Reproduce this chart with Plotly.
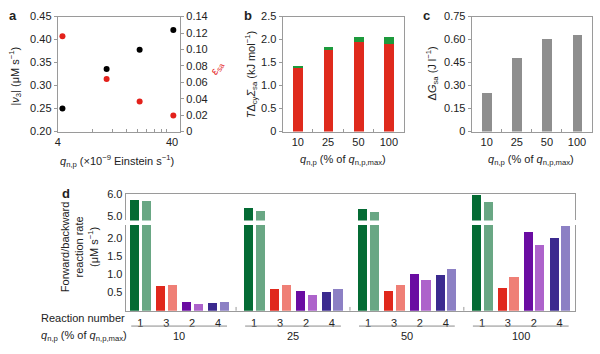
import math
import plotly.graph_objects as go

W, H = 600, 354
FONT = "Liberation Sans, Arial, sans-serif"
AX = "#9a9a9a"
TXT = "#222222"

# ---------------- data ----------------
# panel a
q_abs = [4.4, 10.7, 20.8, 41.0]
v3 = [0.250, 0.336, 0.378, 0.421]
eps_sa = [0.116, 0.064, 0.0365, 0.0196]
# panel b
q_pct = ["10", "25", "50", "100"]
b_red = [1.395, 1.79, 1.965, 1.917]
b_green = [0.036, 0.063, 0.100, 0.148]
# panel c
dG_sa = [0.252, 0.481, 0.609, 0.630]
# panel d
reactions = ["1", "3", "2", "4"]
groups = ["10", "25", "50", "100"]
fwd = [
    [5.745, 0.685, 0.254, 0.209],
    [5.37, 0.598, 0.553, 0.510],
    [5.31, 0.553, 1.013, 0.976],
    [5.955, 0.632, 2.15, 2.00],
]
bwd = [
    [5.69, 0.720, 0.175, 0.254],
    [5.24, 0.720, 0.430, 0.590],
    [5.18, 0.720, 0.844, 1.145],
    [5.655, 0.934, 1.79, 2.31],
]
fwd_colors = ["#046b34", "#e0281c", "#6a0ca2", "#3b2a8f"]
bwd_colors = ["#69a784", "#ef7f76", "#ad63cb", "#8c80c4"]


def px(x):
    return x / W


def py(y):
    return 1 - y / H


fig = go.Figure()

# ---------------- panel a ----------------
fig.add_trace(go.Scatter(x=q_abs, y=v3, mode="markers", xaxis="x", yaxis="y",
                         marker=dict(color="black", size=6), showlegend=False))
fig.add_trace(go.Scatter(x=q_abs, y=eps_sa, mode="markers", xaxis="x", yaxis="y2",
                         marker=dict(color="#e3211b", size=6), showlegend=False))

# ---------------- panel b ----------------
fig.add_trace(go.Bar(x=q_pct, y=b_red, xaxis="x2", yaxis="y3", width=0.32,
                     marker=dict(color="#df2a1d", line=dict(width=0)), showlegend=False))
fig.add_trace(go.Bar(x=q_pct, y=b_green, base=b_red, xaxis="x2", yaxis="y3", width=0.32,
                     marker=dict(color="#1d9a3c", line=dict(width=0)), showlegend=False))

# ---------------- panel c ----------------
fig.add_trace(go.Bar(x=q_pct, y=dG_sa, xaxis="x3", yaxis="y4", width=0.32,
                     marker=dict(color="#8e8e8e", line=dict(width=0)), showlegend=False))

# ---------------- panel d ----------------
GSP = 4.4   # group spacing in reaction slots
centers, xf, xb, yf, yb, cf, cb, labels = [], [], [], [], [], [], [], []
for g in range(len(groups)):
    for r in range(len(reactions)):
        c = g * GSP + r
        centers.append(c)
        labels.append(reactions[r])
        xf.append(c - 0.225)
        xb.append(c + 0.225)
        yf.append(fwd[g][r])
        yb.append(bwd[g][r])
        cf.append(fwd_colors[r])
        cb.append(bwd_colors[r])

for xa, ya in (("x4", "y5"), ("x5", "y6")):
    fig.add_trace(go.Bar(x=xf, y=yf, xaxis=xa, yaxis=ya, width=0.35,
                         marker=dict(color=cf, line=dict(width=0)), showlegend=False))
    fig.add_trace(go.Bar(x=xb, y=yb, xaxis=xa, yaxis=ya, width=0.35,
                         marker=dict(color=cb, line=dict(width=0)), showlegend=False))

d_range = [-0.565, 3 * GSP + 3 + 0.6]

tickfont = dict(family=FONT, size=11, color=TXT)
common = dict(showline=True, linecolor=AX, linewidth=1, showgrid=False, zeroline=False,
              tickfont=tickfont, tickcolor=AX, ticklen=3)

fig.update_layout(
    width=W, height=H, margin=dict(l=0, r=0, t=0, b=0),
    paper_bgcolor="white", plot_bgcolor="white",
    barmode="overlay", bargap=0,
    font=dict(family=FONT, size=11, color=TXT),
    xaxis=dict(domain=[px(55), px(178)], anchor="y", type="log",
               range=[math.log10(4), 1.672], tickvals=[4, 40], ticktext=["4", "40"],
               ticks="", mirror=True,
               minor=dict(tickvals=[8, 12, 16, 20, 24, 28, 32, 36], ticks="inside",
                          ticklen=3, tickcolor=AX),
               **{k: v for k, v in common.items()}),
    yaxis=dict(domain=[py(130), py(11)], anchor="x", range=[0.2, 0.45],
               tickvals=[0.2, 0.25, 0.3, 0.35, 0.4, 0.45], tickformat=".2f",
               ticks="outside", **common),
    yaxis2=dict(overlaying="y", anchor="x", side="right", range=[0, 0.14],
                tickvals=[0, 0.02, 0.04, 0.06, 0.08, 0.1, 0.12, 0.14],
                ticktext=["0", "0.02", "0.04", "0.06", "0.08", "0.10", "0.12", "0.14"],
                ticks="outside", **common),
    xaxis2=dict(domain=[px(281), px(403)], anchor="y3", type="category",
                range=[-0.5, 3.5], ticks="inside", tickson="boundaries", mirror=True,
                **common),
    yaxis3=dict(domain=[py(130), py(11)], anchor="x2", range=[0, 2.5],
                tickvals=[0, 0.5, 1, 1.5, 2, 2.5],
                ticktext=["0", "0.5", "1.0", "1.5", "2.0", "2.5"],
                ticks="outside", mirror=True, **common),
    xaxis3=dict(domain=[px(471), px(592)], anchor="y4", type="category",
                range=[-0.5, 3.5], ticks="inside", tickson="boundaries", mirror=True,
                **common),
    yaxis4=dict(domain=[py(130), py(11)], anchor="x3", range=[0, 0.75],
                tickvals=[0, 0.15, 0.3, 0.45, 0.6, 0.75],
                ticktext=["0", "0.15", "0.30", "0.45", "0.60", "0.75"],
                ticks="outside", mirror=True, **common),
    xaxis4=dict(domain=[px(123.3), px(575)], anchor="y5", range=d_range,
                tickvals=centers, ticktext=labels, ticks="", ticklabelstandoff=2,
                **common),
    xaxis5=dict(domain=[px(123.3), px(575)], anchor="y6", side="top", range=d_range,
                showticklabels=False, ticks="", **common),
    yaxis5=dict(domain=[py(315.4), py(226.6)], anchor="x4", range=[0, 2.35],
                tickvals=[0.5, 1.0, 1.5, 2.0], ticktext=["0.5", "1.0", "1.5", "2.0"],
                ticks="", mirror=True, **common),
    yaxis6=dict(domain=[py(222), py(194.7)], anchor="x4", range=[4.79, 6.01],
                tickvals=[5.0, 6.0], ticktext=["5.0", "6.0"],
                ticks="", mirror=True, **common),
)

ann = []


def A(text, x, y, size=11, color=TXT, angle=0, xanchor="center", yanchor="middle",
      xref="paper", bold=False):
    if bold:
        text = "<b>" + text + "</b>"
    ann.append(dict(text=text, x=x, y=y, xref=xref, yref="paper", showarrow=False,
                    textangle=angle, xanchor=xanchor, yanchor=yanchor,
                    font=dict(family=FONT, size=size, color=color)))


# panel letters
A("a", px(10), py(10), size=13, bold=True)
A("b", px(246), py(10), size=13, bold=True)
A("c", px(426), py(10), size=13, bold=True)
A("d", px(63), py(194), size=13, bold=True)

# axis titles
A("|<i>ν</i><sub>3</sub>| (μM s<sup>−1</sup>)", px(12), py(72), angle=-90)
A("<i>ε</i><sub>sa</sub>", px(215), py(64), color="#e3211b", angle=-60)
A("<i>q</i><sub>n,p</sub> (×10<sup>−9</sup> Einstein s<sup>−1</sup>)", px(115), py(160))
A("<i>T</i>Δ<sub>cy</sub><i>Σ</i><sub>sa</sub> (kJ mol<sup>−1</sup>)", px(249), py(71), angle=-90)
A("<i>q</i><sub>n,p</sub> (% of <i>q</i><sub>n,p,max</sub>)", px(342), py(159))
A("Δ<i>G</i><sub>sa</sub> (J l<sup>−1</sup>)", px(431), py(70), angle=-90)
A("<i>q</i><sub>n,p</sub> (% of <i>q</i><sub>n,p,max</sub>)", px(531), py(159))
A("Forward/backward<br>reaction rate<br>(μM s<sup>−1</sup>)", px(77), py(250), angle=-90)
A("Reaction number", px(125), py(323), xanchor="right")
A("<i>q</i><sub>n,p</sub> (% of <i>q</i><sub>n,p,max</sub>)", px(127), py(342), xanchor="right")

shapes = []
for g in range(len(groups)):
    gc = g * GSP + 1.5
    A(groups[g], gc, py(342), xref="x4")
    shapes.append(dict(type="line", xref="x4", yref="paper", x0=gc - 1.85, x1=gc + 1.85,
                       y0=py(331.3), y1=py(331.3), line=dict(color="#8a8a8a", width=1)))
    if g > 0:
        bx = (g - 1) * GSP + 3 + (GSP - 3) / 2
        shapes.append(dict(type="line", xref="x4", yref="paper", x0=bx, x1=bx,
                           y0=py(315.4), y1=py(311.5), line=dict(color=AX, width=1)))

fig.update_layout(annotations=ann, shapes=shapes)
fig.write_html("out.html")
